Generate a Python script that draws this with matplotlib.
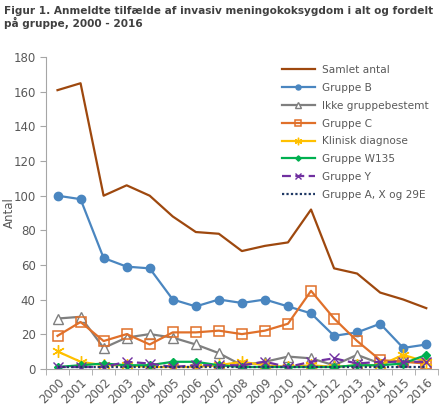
import matplotlib.pyplot as plt
import numpy as np

years = [str(y) for y in range(2000, 2017)]

samlet = [161, 165, 100, 106, 100, 88, 79, 78, 68, 71, 73, 92, 58, 55, 44, 40, 35]
gruppe_b = [100, 98, 64, 59, 58, 40, 36, 40, 38, 40, 36, 32, 19, 21, 26, 12, 14]
ikke_best = [29, 30, 12, 18, 20, 18, 14, 9, 2, 4, 7, 6, 2, 8, 3, 5, 3]
gruppe_c = [19, 27, 16, 20, 14, 21, 21, 22, 20, 22, 26, 45, 29, 16, 5, 4, 3]
klinisk = [10, 4, 2, 2, 1, 1, 1, 2, 4, 2, 1, 2, 1, 2, 2, 8, 4]
w135 = [1, 2, 3, 2, 2, 4, 4, 2, 1, 1, 1, 1, 1, 2, 2, 3, 8]
gruppe_y = [1, 1, 1, 4, 3, 1, 2, 2, 2, 4, 1, 4, 6, 3, 4, 4, 4]
gruppe_axw = [1, 1, 1, 1, 1, 1, 1, 1, 1, 1, 1, 1, 1, 1, 1, 1, 1]

fig = plt.figure(figsize=(4.4, 4.08), dpi=100)
ax = fig.add_axes([0.1045, 0.0963, 0.8905, 0.7633])

x = np.arange(len(years))
lw = 1.6

ax.plot(x, samlet, color='#9E480E', lw=lw, label='Samlet antal')
ax.plot(x, gruppe_b, color='#4A86C0', lw=lw, marker='o', ms=6, label='Gruppe B')
ax.plot(x, ikke_best, color='#7F7F7F', lw=lw, marker='^', ms=7, mfc='white',
        mew=1, label='Ikke gruppebestemt')
ax.plot(x, gruppe_c, color='#E0702A', lw=lw, marker='s', ms=7, mfc='none',
        mew=1.1, label='Gruppe C')
ax.plot(x, klinisk, color='#FFC000', lw=lw, marker=(6, 2, 0), ms=9, mew=1,
        label='Klinisk diagnose')
ax.plot(x, w135, color='#00B050', lw=lw, marker='D', ms=4.5, label='Gruppe W135')
ax.plot(x, gruppe_y, color='#7030A0', lw=lw, ls=(0, (4, 2)), marker='x', ms=7,
        mew=1, label='Gruppe Y')
ax.plot(x, gruppe_axw, color='#1F3864', lw=lw, ls=(0, (1, 1)),
        label='Gruppe A, X og 29E')

ax.set_xlim(-0.5, len(years) - 0.5)
ax.set_ylim(0, 180)
ax.set_yticks(range(0, 181, 20))
ax.set_xticks(x)
ax.set_xticklabels(years, rotation=45, ha='right', rotation_mode='anchor')
ax.set_xticks(np.arange(-0.5, len(years), 1), minor=True)
ax.tick_params(axis='x', which='major', length=0, pad=5, labelsize=8.5,
               colors='#595959')
ax.tick_params(axis='x', which='minor', length=4, color='#A6A6A6', direction='out')
ax.tick_params(axis='y', length=4, color='#A6A6A6', labelsize=8.5,
               colors='#595959')
for s in ['top', 'right']:
    ax.spines[s].set_visible(False)
for s in ['left', 'bottom']:
    ax.spines[s].set_color('#A6A6A6')

ax.set_ylabel('Antal', fontsize=8.5, color='#595959')
ax.yaxis.set_label_coords(-0.078, 0.5)

leg = ax.legend(loc='upper left', bbox_to_anchor=(0.602, 0.975), frameon=False,
                fontsize=7.6, handlelength=3.1, handletextpad=0.75,
                labelspacing=0.74, markerscale=0.6, borderaxespad=0,
                borderpad=0)
for t in leg.get_texts():
    t.set_color('#595959')

fig.text(0.008, 0.985,
         'Figur 1. Anmeldte tilfælde af invasiv meningokoksygdom i alt og fordelt\npå gruppe, 2000 - 2016',
         fontsize=7.6, fontweight='bold', color='#404040', va='top', ha='left',
         linespacing=1.1)

fig.savefig('out.png', dpi=100)
